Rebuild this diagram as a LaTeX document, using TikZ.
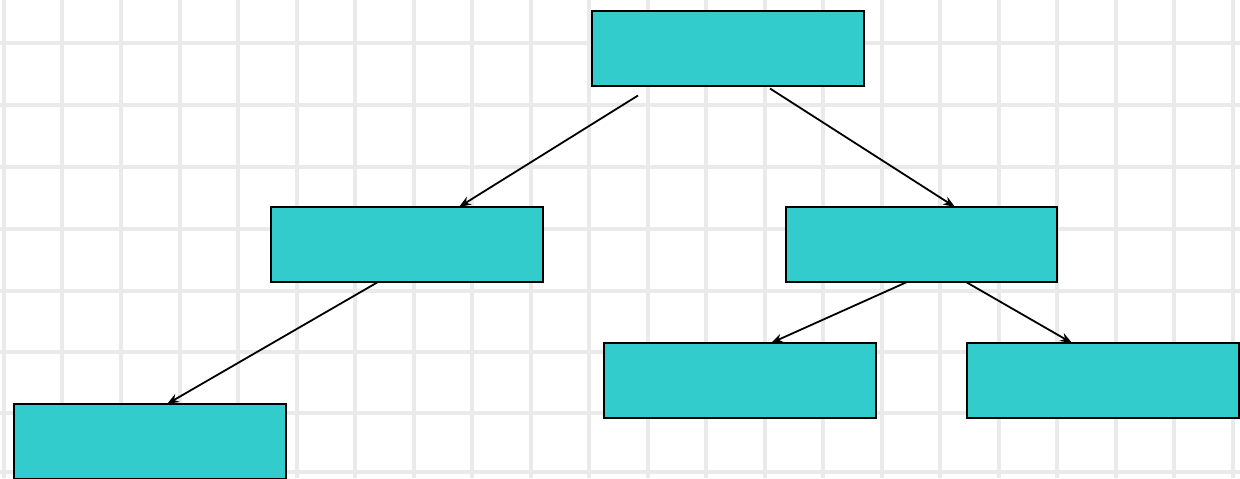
\documentclass[tikz,border=0pt]{standalone}
\usetikzlibrary{arrows.meta}
\definecolor{boxfill}{RGB}{51,204,204}
\definecolor{gridline}{RGB}{234,234,234}
\begin{document}
\begin{tikzpicture}[x=0.02cm,y=-0.02cm,
  box/.style={draw=black,fill=boxfill,line width=0.04cm,minimum width=5.44cm,minimum height=1.5cm,inner sep=0pt,outer sep=0pt},
  conn/.style={draw=black,line width=0.036cm,-{Stealth[length=0.24cm,width=0.18cm]}},
  bg/.style={draw=gridline,line width=0.08cm}]
\useasboundingbox (0,0) rectangle (1240,478);
\clip (0,0) rectangle (1240,478);
\fill[white] (0,0) rectangle (1240,478);
\foreach \x in {4,62,121,180,238,297,355,414,472,531,589,648,706,765,823,882,940,999,1057,1116,1174,1233}
  \draw[bg] (\x,0) -- (\x,478);
\foreach \y in {43,105,167,229,291,352,413,472}
  \draw[bg] (0,\y) -- (1240,\y);
\node[box] (top) at (728,48) {};
\node[box] (ml) at (407,244.5) {};
\node[box] (mr) at (921.5,244.5) {};
\node[box] (bl) at (150,441.5) {};
\node[box] (bm) at (740,380.5) {};
\node[box] (br) at (1103,380.5) {};
\draw[conn] ([xshift=-1.8cm,yshift=-0.2cm]top.south) -- ([xshift=1.04cm]ml.north);
\draw[conn] ([xshift=0.84cm,yshift=-0.06cm]top.south) -- ([xshift=0.67cm]mr.north);
\draw[conn] ([xshift=-0.58cm]ml.south) -- ([xshift=0.34cm]bl.north);
\draw[conn] ([xshift=-0.29cm]mr.south) -- ([xshift=0.62cm]bm.north);
\draw[conn] ([xshift=0.89cm]mr.south) -- ([xshift=-0.62cm]br.north);
\end{tikzpicture}
\end{document}
